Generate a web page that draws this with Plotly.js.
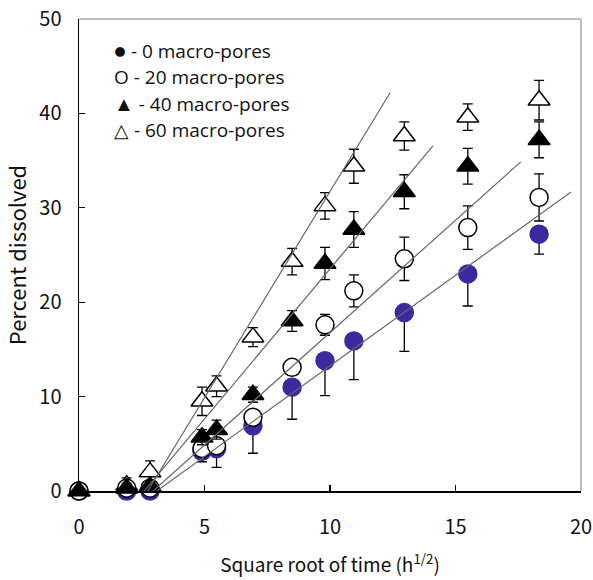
<!DOCTYPE html>
<html>
<head>
<meta charset="utf-8">
<script src="https://cdn.plot.ly/plotly-3.0.1.min.js"></script>
<style>html,body{margin:0;padding:0;background:#fff;}#chart{width:593px;height:580px;}</style>
</head>
<body>
<div id="chart"></div>
<script>
// Square root of time (h^1/2)
const sqrtTime = [0, 1.9, 2.83, 4.9, 5.48, 6.93, 8.49, 9.8, 10.95, 12.96, 15.49, 18.33];

// Percent dissolved
const pores0 = [0, 0, 0, 4.2, 4.5, 6.9, 11.0, 13.8, 15.9, 18.9, 23.0, 27.2];
const pores0ErrMinus = [0, 0, 0, 1.1, 2.0, 2.9, 3.4, 3.7, 4.1, 4.1, 3.4, 2.1];
const pores20 = [0, 0.3, 0.3, 4.5, 4.8, 7.8, 13.1, 17.6, 21.2, 24.6, 27.9, 31.1];
const pores20Err = [0, 0, 0, 0.4, 0.4, 0.6, 0.5, 1.1, 1.7, 2.3, 2.3, 2.5];
const pores40 = [0, 0.3, 0.5, 5.7, 6.5, 10.2, 18.0, 24.1, 27.7, 31.7, 34.4, 37.2];
const pores40Err = [0, 0.5, 0.5, 0.8, 1.0, 0.8, 1.1, 1.7, 1.9, 1.8, 1.9, 1.9];
const pores60 = [0, 0.6, 2.0, 9.5, 11.1, 16.3, 24.3, 30.2, 34.4, 37.6, 39.6, 41.4];
const pores60Err = [0, 0.8, 1.2, 1.5, 1.1, 1.0, 1.4, 1.4, 1.8, 1.5, 1.4, 2.1];

// Linear fit parameters (0, 20, 40, 60 macro-pores)
const fitSlope = [1.92, 2.38, 3.18, 4.37];
const fitXIntercept = [3.1, 2.95, 2.6, 2.74];
const fitXStart = [2.9, 2.7, 2.45, 2.5];
const fitXEnd = [19.6, 17.6, 14.1, 12.4];

// Legend entries
const legendSymbols = ["●", "O", "▲", "△"];
const legendLabels = [" - 0 macro-pores", " - 20 macro-pores", " - 40 macro-pores", " - 60 macro-pores"];
const legendY = [46.7, 43.9, 41.1, 38.2];

const errStyle = {color: '#000', thickness: 1.3, width: 5};

function markerTrace(y, errPlus, errMinus, symbol, fill, size) {
  return {
    x: sqrtTime, y: y, type: 'scatter', mode: 'markers', cliponaxis: false, showlegend: false,
    marker: {symbol: symbol, size: size, color: fill, line: {color: fill === '#ffffff' ? '#000' : fill, width: 1.5}},
    error_y: Object.assign({type: 'data', symmetric: false, array: errPlus, arrayminus: errMinus}, errStyle)
  };
}

const traces = [
  markerTrace(pores60, pores60Err, pores60Err, 'triangle-up', '#ffffff', 19),
  markerTrace(pores0, pores0.map(() => 0), pores0ErrMinus, 'circle', '#3b2a9e', 18),
  markerTrace(pores20, pores20Err, pores20Err, 'circle', '#ffffff', 18),
  markerTrace(pores40, pores40Err, pores40Err, 'triangle-up', '#000000', 19)
];

for (let i = 0; i < fitSlope.length; i++) {
  const xs = [fitXStart[i], fitXEnd[i]];
  traces.push({
    x: xs, y: xs.map(v => fitSlope[i] * (v - fitXIntercept[i])),
    type: 'scatter', mode: 'lines', cliponaxis: false, showlegend: false,
    line: {color: '#666666', width: 1.2}, hoverinfo: 'skip'
  });
}

const fam = 'Noto Sans CJK JP, Liberation Sans, Arial';
const axisFont = {family: fam, size: 20, color: '#111'};

const layout = {
  width: 593, height: 580,
  margin: {l: 79, r: 12, t: 19, b: 89},
  paper_bgcolor: '#fff', plot_bgcolor: '#fff',
  showlegend: false,
  xaxis: {
    range: [0, 20], dtick: 5, tick0: 0, ticks: 'inside', ticklen: 6, tickwidth: 1.3, tickcolor: '#000',
    showline: true, linecolor: '#000', linewidth: 1.5, showgrid: false, zeroline: false,
    tickfont: axisFont, ticklabelstandoff: 17,
    title: {text: 'Square root of time (h<sup>1/2</sup>)', font: {family: fam, size: 19, color: '#111'}, standoff: 20}
  },
  yaxis: {
    range: [0, 50], dtick: 10, tick0: 0, ticks: 'inside', ticklen: 6, tickwidth: 1.3, tickcolor: '#000',
    showline: true, linecolor: '#000', linewidth: 1.5, showgrid: false, zeroline: false,
    tickfont: axisFont, ticklabelstandoff: 12,
    title: {text: 'Percent dissolved', font: {family: fam, size: 22, color: '#111'}, standoff: 11}
  },
  shapes: [
    {type: 'line', xref: 'paper', yref: 'paper', x0: 0, x1: 1, y0: 1, y1: 1, line: {color: '#aaaaaa', width: 1.5}},
    {type: 'line', xref: 'paper', yref: 'paper', x0: 1, x1: 1, y0: 0, y1: 1, line: {color: '#aaaaaa', width: 1.5}}
  ],
  annotations: legendLabels.map((t, i) => ({
    x: 1.3, y: legendY[i], xref: 'x', yref: 'y',
    text: (i === 0 || i === 2 ? '<span style="font-size:20px">' + legendSymbols[i] + '</span>' : legendSymbols[i]) + t,
    showarrow: false, xanchor: 'left', yanchor: 'middle',
    font: {family: 'Open Sans, Lato, Arial', size: 19, color: '#111'}
  }))
};

Plotly.newPlot('chart', traces, layout, {displayModeBar: false, staticPlot: true});
</script>
</body>
</html>
